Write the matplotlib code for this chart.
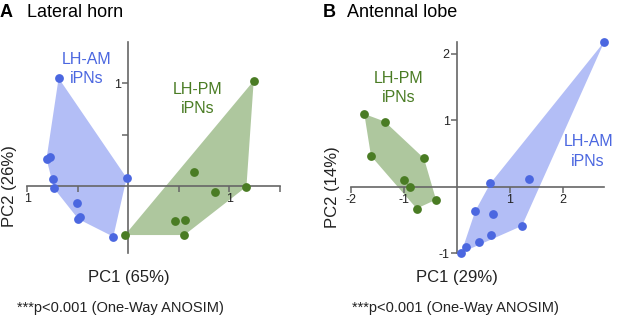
import matplotlib
matplotlib.use("Agg")
import matplotlib.pyplot as plt
import matplotlib.transforms as mtransforms
import numpy as np

plt.rcParams['font.family'] = ['Liberation Sans', 'DejaVu Sans']

# Panel A - lateral horn PCA scores
a_am_x = [-0.69, -0.81, -0.78, -0.75, -0.737, -0.505, -0.495, -0.48, -0.149, -0.017]
a_am_y = [1.05, 0.267, 0.29, 0.073, -0.017, -0.157, -0.316, -0.30, -0.487, 0.083]
a_pm_x = [1.24, 0.653, 0.854, 1.168, 0.458, 0.564, 0.554, -0.034]
a_pm_y = [1.024, 0.138, -0.05, -0.002, -0.335, -0.325, -0.471, -0.471]

# Panel B - antennal lobe PCA scores
b_pm_x = [-1.743, -1.358, -1.617, -0.617, -0.989, -0.881, -0.39, -0.755]
b_pm_y = [1.094, 0.98, 0.463, 0.427, 0.109, 0.0, -0.194, -0.328]
b_am_x = [2.785, 0.634, 1.364, 0.351, 0.691, 1.232, 0.642, 0.426, 0.181, 0.087]
b_am_y = [2.18, 0.049, 0.113, -0.364, -0.409, -0.588, -0.731, -0.836, -0.91, -0.991]

BLUE = '#4b67e0'
BLUE_FILL = '#b3bef6'
GREEN = '#4a7c24'
GREEN_FILL = '#aec79e'
AXC = '#666666'


def hull(xs, ys):
    # monotone chain convex hull
    pts = sorted(set(zip(xs, ys)))

    def cross(o, a, b):
        return (a[0] - o[0]) * (b[1] - o[1]) - (a[1] - o[1]) * (b[0] - o[0])
    lower, upper = [], []
    for p in pts:
        while len(lower) >= 2 and cross(lower[-2], lower[-1], p) <= 0:
            lower.pop()
        lower.append(p)
    for p in reversed(pts):
        while len(upper) >= 2 and cross(upper[-2], upper[-1], p) <= 0:
            upper.pop()
        upper.append(p)
    h = lower[:-1] + upper[:-1]
    return [p[0] for p in h], [p[1] for p in h]


def group(ax, xs, ys, dot, fill):
    hx, hy = hull(xs, ys)
    ax.fill(hx, hy, color=fill, lw=0, zorder=1, clip_on=False)
    ax.scatter(xs, ys, s=40, color=dot, lw=0, zorder=3, clip_on=False)


def setup(ax, xlim, ylim):
    ax.set_xlim(*xlim)
    ax.set_ylim(*ylim)
    ax.patch.set_alpha(0)
    for s in ['top', 'right']:
        ax.spines[s].set_visible(False)
    for s in ['left', 'bottom']:
        ax.spines[s].set_position(('data', 0))
        ax.spines[s].set_color(AXC)
        ax.spines[s].set_linewidth(1.2)
        ax.spines[s].set_zorder(2)
    ax.tick_params(direction='out', length=4, width=1.1, color=AXC,
                   labelsize=9, pad=1, labelcolor='#222222')


fig = plt.figure(figsize=(6.17, 3.17), dpi=100)
W, H = 617.0, 317.0

# ---- A ----
axA = fig.add_axes([27.3 / W, (H - 253) / H, 252.7 / W, 211 / H])
setup(axA, (-1, 1.5), (-0.645, 1.4))
group(axA, a_am_x, a_am_y, BLUE, BLUE_FILL)
group(axA, a_pm_x, a_pm_y, GREEN, GREEN_FILL)
axA.set_xticks([-1, -0.5, 0.5, 1, 1.5])
axA.set_xticklabels(['1', '', '', '1', ''])
axA.set_yticks([0.5, 1])
axA.set_yticklabels(['', '1'])
axA.text(-0.41, 1.14, 'LH-AM\niPNs', color=BLUE, fontsize=11.5, ha='center',
         va='center', linespacing=1.35)
axA.text(0.686, 0.85, 'LH-PM\niPNs', color=GREEN, fontsize=11.5, ha='center',
         va='center', linespacing=1.35)

# ---- B ----
axB = fig.add_axes([350.7 / W, (H - 253.3) / H, 253.6 / W, 211.6 / H])
setup(axB, (-2, 2.785), (-1, 2.18))
group(axB, b_pm_x, b_pm_y, GREEN, GREEN_FILL)
group(axB, b_am_x, b_am_y, BLUE, BLUE_FILL)
axB.set_xticks([-2, -1, 1, 2])
axB.set_xticklabels(['-2', '-1', '1', '2'])
axB.set_yticks([-1, 1, 2])
axB.set_yticklabels(['-1', '1', '2'])
axB.text(-1.1, 1.48, 'LH-PM\niPNs', color=GREEN, fontsize=11.5, ha='center',
         va='center', linespacing=1.35)
axB.text(2.48, 0.53, 'LH-AM\niPNs', color=BLUE, fontsize=11.5, ha='center',
         va='center', linespacing=1.35)

# axis labels centred on the origin
for ax, xl, yl, ylx in [(axA, 'PC1 (65%)', 'PC2 (26%)', 10),
                        (axB, 'PC1 (29%)', 'PC2 (14%)', 333)]:
    tx = mtransforms.blended_transform_factory(ax.transData, fig.transFigure)
    ax.text(0, (H - 281.7) / H, xl, transform=tx, ha='center', va='baseline',
            fontsize=12, color='#222222')
    ty = mtransforms.blended_transform_factory(fig.transFigure, ax.transData)
    ax.text(ylx / W, 0, yl, transform=ty, ha='center', va='center',
            rotation=90, fontsize=12, color='#222222')

# panel titles
fig.text(0 / W, (H - 17.3) / H, 'A', fontsize=13, fontweight='bold', va='baseline')
fig.text(27 / W, (H - 17.3) / H, 'Lateral horn', fontsize=13, va='baseline')
fig.text(323 / W, (H - 17.3) / H, 'B', fontsize=13, fontweight='bold', va='baseline')
fig.text(347 / W, (H - 17.3) / H, 'Antennal lobe', fontsize=13, va='baseline')

# stats footnotes
fig.text(17 / W, (H - 312.3) / H, '***p<0.001 (One-Way ANOSIM)', fontsize=10.5,
         va='baseline', color='#222222')
fig.text(351.7 / W, (H - 312.3) / H, '***p<0.001 (One-Way ANOSIM)', fontsize=10.5,
         va='baseline', color='#222222')

fig.savefig('out.png', dpi=100)
